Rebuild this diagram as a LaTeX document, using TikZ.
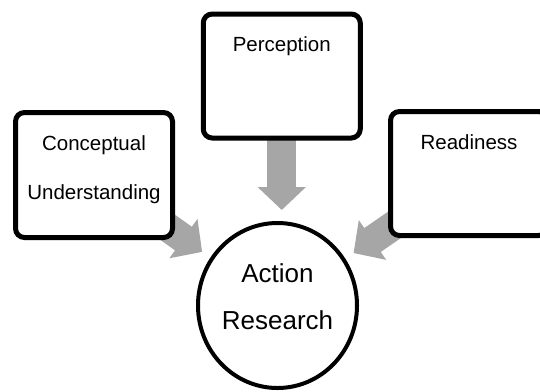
\documentclass[tikz,border=0pt]{standalone}
\usepackage{fontspec}
\setmainfont{Liberation Sans}
\usetikzlibrary{arrows.meta,shapes.geometric,backgrounds}
\definecolor{arrowgray}{RGB}{166,166,166}

\begin{document}
\begin{tikzpicture}[x=1pt, y=-1pt,
  box/.style={draw, line width=5pt, rounded corners=9pt, fill=white, inner sep=0pt,
    minimum width=157pt, align=center, font=\fontsize{20.5}{49}\selectfont},
  tallbox/.style={box, text height=37.5pt, text depth=86.5pt},
  hub/.style={draw, ellipse, line width=4pt, fill=white, inner sep=0pt,
    minimum width=159pt, minimum height=165pt, align=center,
    font=\fontsize{26}{47}\selectfont},
  flow/.style={draw=arrowgray, line width=29pt, -{Triangle[length=23pt, width=47pt]}}]
  \useasboundingbox (0,0) rectangle (540,391);
  \clip (0,0) rectangle (540,391);

  \node[tallbox] (perc) at (281.75,76) {Perception};
  \node[tallbox] (ready) at (469,173.5) {Readiness};
  \node[box, minimum height=124pt] (concept) at (94,175)
    {\rule{0pt}{38pt}Conceptual\\Understanding\rule[-38pt]{0pt}{38pt}};

  \node[hub] (act) at (277.5,305.5)
    {\rule{0pt}{23.5pt}Action\\Research\rule[-23.5pt]{0pt}{23.5pt}};

  \begin{pgfonlayer}{background}
    \draw[flow, shorten <=-6pt, shorten >=11pt] (perc) -- (perc |- act.north);
    \draw[flow, shorten <=-20pt, shorten >=10pt] (concept) -- (act);
    \draw[flow, shorten <=-20pt, shorten >=10pt] (ready) -- (act);
  \end{pgfonlayer}
\end{tikzpicture}
\end{document}
